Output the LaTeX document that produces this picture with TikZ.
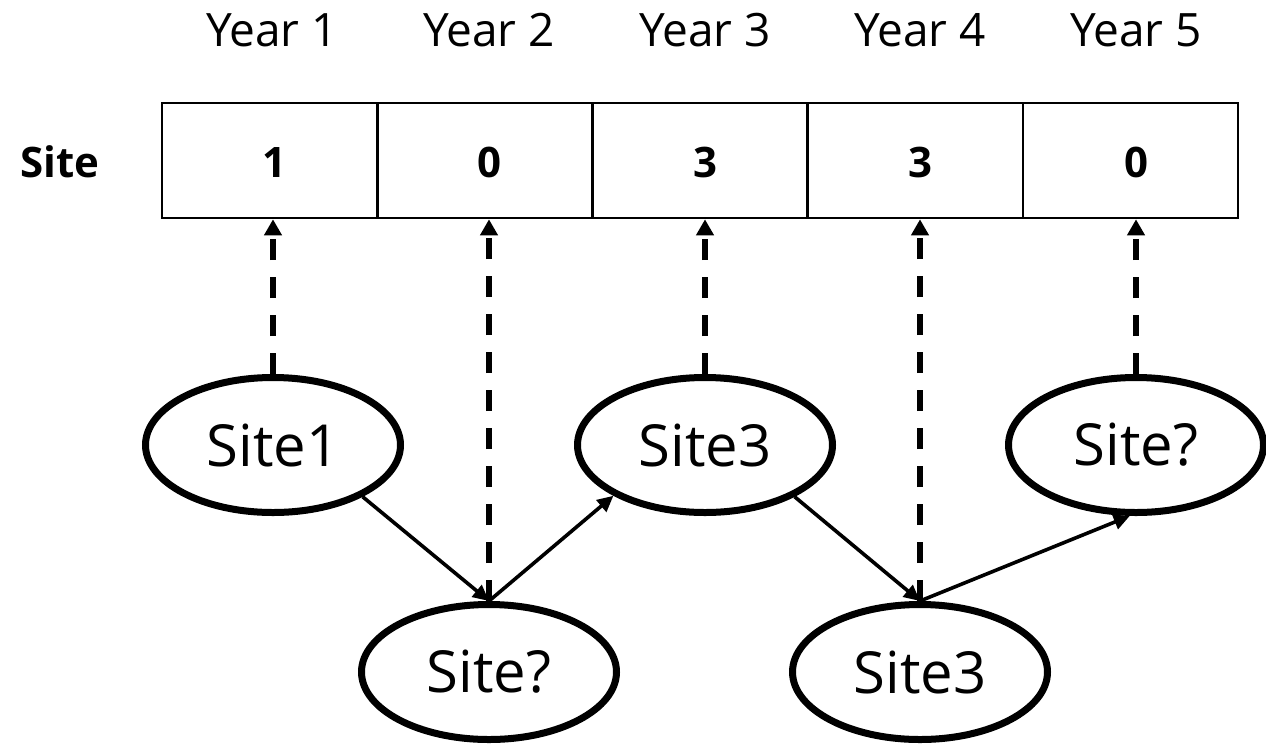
\documentclass[tikz,border=0pt]{standalone}
\usepackage{fontspec}
\setmainfont{Open Sans}
\usetikzlibrary{arrows.meta,shapes.geometric}
\begin{document}
\begin{tikzpicture}[x=1pt,y=-1pt,
  cell/.style={draw, line width=2.6pt, minimum width=215.2pt, minimum height=115pt, inner sep=0pt},
  yearlbl/.style={anchor=base, font=\fontsize{46}{50}\selectfont, inner sep=0pt},
  count/.style={anchor=base, font=\fontsize{42}{46}\selectfont\bfseries, inner sep=0pt},
  state/.style={ellipse, draw, line width=7pt, minimum width=255pt, minimum height=135pt, inner sep=0pt, fill=white, font=\fontsize{58}{62}\selectfont},
  obs/.style={line width=6pt, dash pattern=on 21pt off 17pt, -{Triangle[length=16pt,width=17pt]}},
  move/.style={line width=3.6pt, -{Triangle[length=16pt,width=15pt]}}
]
\useasboundingbox (0,0) rectangle (1266,745);

% year headings
\node[yearlbl] (y1) at (272,46.7) {Year 1};
\node[yearlbl] (y2) at (489,46.7) {Year 2};
\node[yearlbl] (y3) at (705,46.7) {Year 3};
\node[yearlbl] (y4) at (920,46.7) {Year 4};
\node[yearlbl] (y5) at (1136,46.7) {Year 5};

% observation row
\node[count] (site) at (60,177) {Site};
\node[cell] (c1) at (269.6,160.5) {};
\node[cell] (c2) at (484.8,160.5) {};
\node[cell] (c3) at (700.0,160.5) {};
\node[cell] (c4) at (915.2,160.5) {};
\node[cell] (c5) at (1130.4,160.5) {};
\node[count] (n1) at (274,177) {1};
\node[count] (n2) at (489,177) {0};
\node[count] (n3) at (705,177) {3};
\node[count] (n4) at (920,177) {3};
\node[count] (n5) at (1136,177) {0};

% hidden states
\node[state] (s1) at (273,445) {Site1};
\node[state] (s2) at (489,672) {Site?};
\node[state] (s3) at (705,445) {Site3};
\node[state] (s4) at (920,672) {Site3};
\node[state] (s5) at (1136,445) {Site?};

% emissions
\draw[obs] (s1.north) -- (s1.north |- c1.south);
\draw[obs] (s2.north) -- (s2.north |- c2.south);
\draw[obs] (s3.north) -- (s3.north |- c3.south);
\draw[obs] (s4.north) -- (s4.north |- c4.south);
\draw[obs] (s5.north) -- (s5.north |- c5.south);

% transitions
\draw[move] (s1.330) -- (s2.north);
\draw[move] (s2.north) -- (s3.209);
\draw[move] (s3.330) -- (s4.north);
\draw[move] (s4.north) -- (s5.265);
\end{tikzpicture}
\end{document}
